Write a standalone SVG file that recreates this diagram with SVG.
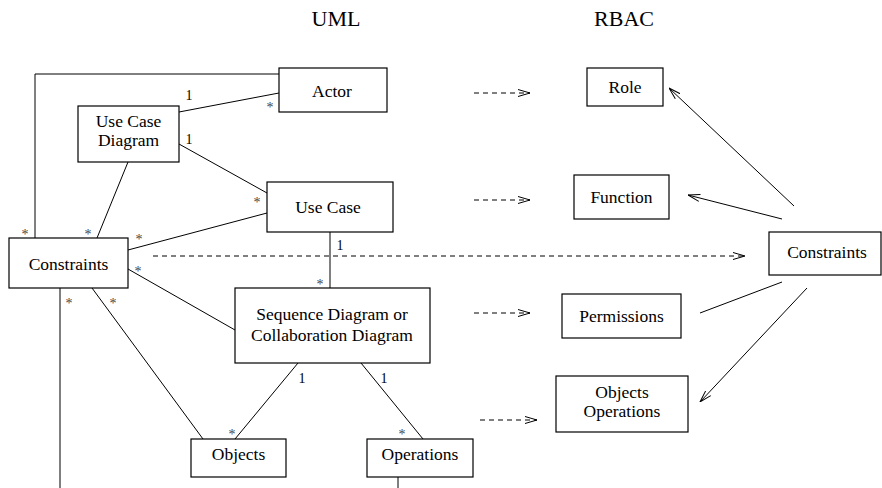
<svg xmlns="http://www.w3.org/2000/svg" width="882" height="488" viewBox="0 0 882 488">
<style>
  .box { fill: #fff; stroke: #000; stroke-width: 1.2; }
  text { font-family: "Liberation Serif", "Tinos", "DejaVu Serif", "Times New Roman", serif; }
  .t { font-size: 17.5px; fill: #000; text-anchor: middle; }
  .h { font-size: 22px; fill: #000; text-anchor: middle; }
  .m { font-size: 14px; fill: #000; text-anchor: middle; }
  .s { font-size: 14px; fill: #444; text-anchor: middle; }
  .ln { fill: none; stroke: #000; stroke-width: 1; }
  .dash { fill: none; stroke: #000; stroke-width: 1; stroke-dasharray: 5,4; }
</style>
<defs>
  <marker id="open" viewBox="0 0 12 8" refX="12" refY="4" markerWidth="12" markerHeight="8" markerUnits="userSpaceOnUse" orient="auto">
    <path d="M0,0.5 L12,4 L0,7.5" fill="none" stroke="#000" stroke-width="1"/>
  </marker>
</defs>
<rect width="882" height="488" fill="#fff"/>

<text class="h" x="336" y="26">UML</text>
<text class="h" x="624" y="26">RBAC</text>

<g id="connectors">
  <polyline class="ln" points="35,238 35,74 279,74"/>
  <line class="ln" x1="179" y1="112" x2="279" y2="93"/>
  <line class="ln" x1="179" y1="144" x2="267" y2="193"/>
  <line class="ln" x1="128" y1="162" x2="97" y2="238"/>
  <line class="ln" x1="128" y1="250" x2="267" y2="213"/>
  <line class="dash" x1="153" y1="256" x2="745" y2="256" marker-end="url(#open)"/>
  <line class="ln" x1="330" y1="232" x2="330" y2="288"/>
  <line class="ln" x1="128" y1="269" x2="235" y2="330"/>
  <line class="ln" x1="60" y1="288" x2="60" y2="488"/>
  <line class="ln" x1="92" y1="288" x2="203" y2="439"/>
  <line class="ln" x1="298" y1="363" x2="235" y2="439"/>
  <line class="ln" x1="361" y1="363" x2="423" y2="439"/>
  <line class="ln" x1="398" y1="477" x2="398" y2="488"/>
  <line class="dash" x1="474" y1="93" x2="530" y2="93" marker-end="url(#open)"/>
  <line class="dash" x1="474" y1="200" x2="530" y2="200" marker-end="url(#open)"/>
  <line class="dash" x1="474" y1="313" x2="530" y2="313" marker-end="url(#open)"/>
  <line class="dash" x1="480" y1="420" x2="537" y2="420" marker-end="url(#open)"/>
  <line class="ln" x1="794" y1="206" x2="669" y2="88" marker-end="url(#open)"/>
  <line class="ln" x1="782" y1="219" x2="688" y2="195" marker-end="url(#open)"/>
  <line class="ln" x1="782" y1="282" x2="700" y2="313"/>
  <line class="ln" x1="807" y1="288" x2="700" y2="402" marker-end="url(#open)"/>

  <text class="m" x="189" y="100">1</text>
  <text class="s" x="270" y="112">*</text>
  <text class="m" x="189" y="144">1</text>
  <text class="s" x="257" y="207">*</text>
  <text class="s" x="25" y="239">*</text>
  <text class="s" x="88" y="239">*</text>
  <text class="s" x="139" y="244">*</text>
  <text class="s" x="138" y="276">*</text>
  <text class="m" x="340" y="250">1</text>
  <text class="s" x="320" y="289">*</text>
  <text class="s" x="69" y="308">*</text>
  <text class="s" x="113" y="308">*</text>
  <text class="m" x="302" y="383">1</text>
  <text class="m" x="384" y="383">1</text>
  <text class="s" x="232" y="439">*</text>
  <text class="s" x="402" y="439">*</text>
</g>

<g id="actor">
  <rect class="box" x="279" y="68" width="108" height="44"/>
  <text class="t" x="332" y="97">Actor</text>
</g>
<g id="use-case-diagram">
  <rect class="box" x="78" y="106" width="101" height="56"/>
  <text class="t" x="128.5" y="127">Use Case</text>
  <text class="t" x="128.5" y="146">Diagram</text>
</g>
<g id="use-case">
  <rect class="box" x="267" y="182" width="126" height="50"/>
  <text class="t" x="328" y="213">Use Case</text>
</g>
<g id="constraints-uml">
  <rect class="box" x="9" y="238" width="119" height="50"/>
  <text class="t" x="68.5" y="270">Constraints</text>
</g>
<g id="sequence-diagram">
  <rect class="box" x="235" y="288" width="195" height="75"/>
  <text class="t" x="332" y="320">Sequence Diagram or</text>
  <text class="t" x="332" y="341">Collaboration Diagram</text>
</g>
<g id="objects">
  <rect class="box" x="191" y="439" width="95" height="38"/>
  <text class="t" x="238.5" y="460">Objects</text>
</g>
<g id="operations">
  <rect class="box" x="367" y="439" width="106" height="38"/>
  <text class="t" x="420" y="460">Operations</text>
</g>

<g id="role">
  <rect class="box" x="587" y="68" width="76" height="38"/>
  <text class="t" x="625" y="93">Role</text>
</g>
<g id="function">
  <rect class="box" x="574" y="175" width="95" height="44"/>
  <text class="t" x="621.5" y="203">Function</text>
</g>
<g id="constraints-rbac">
  <rect class="box" x="769" y="232" width="112" height="43"/>
  <text class="t" x="827" y="258">Constraints</text>
</g>
<g id="permissions">
  <rect class="box" x="562" y="294" width="119" height="44"/>
  <text class="t" x="621.5" y="322">Permissions</text>
</g>
<g id="objects-operations">
  <rect class="box" x="556" y="376" width="132" height="56"/>
  <text class="t" x="622" y="398">Objects</text>
  <text class="t" x="622" y="417">Operations</text>
</g>
</svg>
